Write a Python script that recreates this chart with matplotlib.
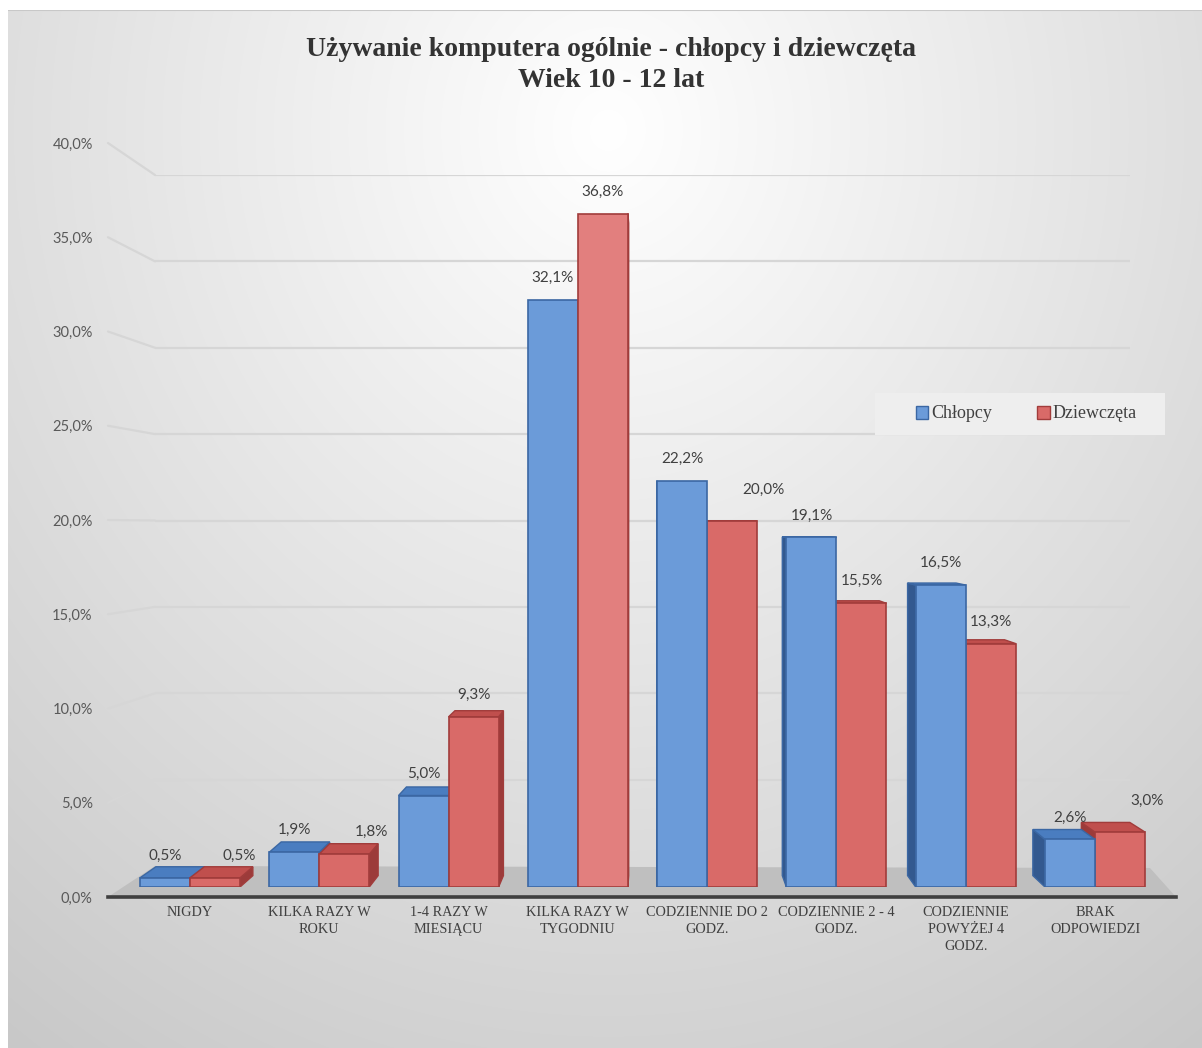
import numpy as np
import matplotlib
matplotlib.use("Agg")
import matplotlib.pyplot as plt
from matplotlib.patches import Polygon, Patch, Rectangle
from matplotlib.patches import ConnectionPatch

# ---------------- data ----------------
categories = ["NIGDY", "KILKA RAZY W\nROKU", "1-4 RAZY W\nMIESIĄCU", "KILKA RAZY W\nTYGODNIU",
              "CODZIENNIE DO 2\nGODZ.", "CODZIENNIE 2 - 4\nGODZ.", "CODZIENNIE\nPOWYŻEJ 4\nGODZ.",
              "BRAK\nODPOWIEDZI"]
chlopcy = [0.5, 1.9, 5.0, 32.1, 22.2, 19.1, 16.5, 2.6]
dziewczeta = [0.5, 1.8, 9.3, 36.8, 20.0, 15.5, 13.3, 3.0]
series_names = ["Chłopcy", "Dziewczęta"]
yticks = [0, 5, 10, 15, 20, 25, 30, 35, 40]
title = "Używanie komputera ogólnie - chłopcy i dziewczęta\nWiek 10 - 12 lat"

# label placement tweaks (pixels) – style only
red_label_dx = [24, 27, 0, 0, 31, 0, 0, 27]
red_label_dy = [22, 22, 22, 22, 31, 22, 22, 31]

W, H = 1202, 1048
fig = plt.figure(figsize=(W / 100, H / 100), dpi=100)
fig.patch.set_facecolor("white")

def fx(x):
    return x / W

def fy(y):
    return 1 - y / H

# ---------- background gradient ----------
bg = fig.add_axes([fx(8), fy(1048), fx(1202) - fx(8), fy(10) - fy(1048)], zorder=-10)
yy, xx = np.mgrid[0:1040, 0:1194]
d = np.sqrt(((xx - 600) / 900.0) ** 2 + ((yy - 120) / 1000.0) ** 2)
val = 1.0 - 0.19 * np.clip(d, 0, 1.2)
val = np.clip(val, 0.78, 1.0)
img = np.dstack([val, val, val])
bg.imshow(img, aspect="auto", extent=(0, 1, 0, 1), origin="upper")
bg.set_xlim(0, 1); bg.set_ylim(0, 1)
bg.axis("off")
bg.plot([0, 1], [1, 1], color="#c8c8c8", lw=1.5, transform=bg.transAxes)

# ---------- back wall gridlines ----------
ax_back = fig.add_axes([fx(155), fy(866), fx(1130) - fx(155), fy(175) - fy(866)], zorder=1)
ax_back.set_ylim(0, 40); ax_back.set_xlim(0, 1)
ax_back.axis("off")
for v in yticks[1:]:
    ax_back.axhline(v, color="#d6d6d6", lw=1.6)

# ---------- front tick labels ----------
ax_front = fig.add_axes([fx(108), fy(897), fx(155) - fx(108), fy(143) - fy(897)], zorder=2)
ax_front.set_ylim(0, 40); ax_front.set_xlim(0, 1)
ax_front.patch.set_alpha(0)
for s in ax_front.spines.values():
    s.set_visible(False)
ax_front.set_xticks([])
ax_front.set_yticks(yticks)
ax_front.set_yticklabels([f"{v:.1f}%".replace(".", ",") for v in yticks],
                         fontfamily="Lato", fontsize=10.5, color="#595959")
ax_front.tick_params(axis="y", length=0, pad=11)

for v in yticks[1:]:
    con = ConnectionPatch(xyA=(0, v), coordsA=ax_front.get_yaxis_transform(),
                          xyB=(0, v), coordsB=ax_back.get_yaxis_transform(),
                          color="#d6d6d6", lw=1.6)
    fig.add_artist(con)

# ---------- floor ----------
floor = Polygon([(fx(108), fy(897)), (fx(1176), fy(897)), (fx(1150), fy(868)), (fx(155), fy(866))],
                closed=True, transform=fig.transFigure, facecolor="#bfbfbf", edgecolor="none", zorder=1.5)
fig.add_artist(floor)
fig.add_artist(plt.Line2D([fx(108), fx(1176)], [fy(897), fy(897)], transform=fig.transFigure,
                          color="#3f3f3f", lw=2.6, zorder=1.6))

# ---------- bars ----------
ax = fig.add_axes([fx(125.35), fy(887), fx(1159.65) - fx(125.35), fy(155) - fy(887)], zorder=3)
ax.set_xlim(-0.5, 7.5); ax.set_ylim(0, 40)
ax.patch.set_alpha(0)
for s in ax.spines.values():
    s.set_visible(False)
ax.set_yticks([])
x = np.arange(len(categories))
ax.set_xticks(x)
ax.set_xticklabels(categories, fontfamily="Liberation Serif", fontsize=10.3, color="#404040",
                   linespacing=1.4)
ax.tick_params(axis="x", length=0, pad=14)

bw = 0.387
styles = {
    0: dict(front="#6b9bd9", edge="#3b67a3", side="#33598f", top="#4a7dc0"),
    1: dict(front="#d96a68", edge="#a13c3b", side="#9c3b3a", top="#c04f4d"),
}
big_red_front = "#e27f7e"

b1 = ax.bar(x - bw / 2, chlopcy, bw, color=styles[0]["front"], edgecolor=styles[0]["edge"], lw=1.2, zorder=5)
b2 = ax.bar(x + bw / 2, dziewczeta, bw, color=styles[1]["front"], edgecolor=styles[1]["edge"], lw=1.2, zorder=5)

fig.canvas.draw()
vp = np.array([654.0, H - 520.0])  # vanishing point in display pixels
k = 0.031

boxes = []
for si, cont in enumerate([b1, b2]):
    for rect in cont.patches:
        bb = rect.get_window_extent()
        cx = (bb.x0 + bb.x1) / 2
        boxes.append((abs(cx - vp[0]), si, rect, bb))
boxes.sort(key=lambda t: -t[0])

def back(p):
    p = np.array(p, dtype=float)
    return p + k * (vp - p)

z = 4.0
for dist, si, rect, bb in boxes:
    st = styles[si]
    x0, x1, y0, y1 = bb.x0, bb.x1, bb.y0, bb.y1
    faces = []
    if x1 < vp[0]:
        pts = [(x1, y0), (x1, y1), back((x1, y1)), back((x1, y0))]
        faces.append((pts, st["side"]))
    if x0 > vp[0]:
        pts = [(x0, y0), (x0, y1), back((x0, y1)), back((x0, y0))]
        faces.append((pts, st["side"]))
    if y1 < vp[1]:
        pts = [(x0, y1), (x1, y1), back((x1, y1)), back((x0, y1))]
        faces.append((pts, st["top"]))
    for pts, col in faces:
        poly = Polygon(pts, closed=True, transform=None, facecolor=col, edgecolor=st["edge"],
                       lw=1.0, zorder=z)
        ax.add_artist(poly)
        z += 0.001
    rect.set_zorder(z + 0.0005)
    z += 0.002
    if si == 1 and rect.get_height() > 30:
        rect.set_facecolor(big_red_front)

# ---------- value labels ----------
for i, v in enumerate(chlopcy):
    ax.annotate(f"{v:.1f}%".replace(".", ","), (x[i] - bw / 2, v), xytext=(0, 22 * 0.72),
                textcoords="offset points", ha="center", va="center", fontfamily="Lato",
                fontsize=11, color="#404040", zorder=20)
for i, v in enumerate(dziewczeta):
    ax.annotate(f"{v:.1f}%".replace(".", ","), (x[i] + bw / 2, v),
                xytext=(red_label_dx[i] * 0.72, red_label_dy[i] * 0.72),
                textcoords="offset points", ha="center", va="center", fontfamily="Lato",
                fontsize=11, color="#404040", zorder=20)

# ---------- title ----------
fig.text(fx(611), fy(65), title, ha="center", va="center", fontfamily="Liberation Serif",
         fontweight="bold", fontsize=20, color="#333333", linespacing=1.3)

# ---------- legend ----------
fig.add_artist(Rectangle((fx(875), fy(435)), fx(1165) - fx(875), fy(393) - fy(435),
                         transform=fig.transFigure, facecolor="#eeeeee", edgecolor="none", zorder=29))
handles = [Patch(facecolor=styles[0]["front"], edgecolor=styles[0]["edge"]),
           Patch(facecolor=styles[1]["front"], edgecolor=styles[1]["edge"])]
leg = fig.legend(handles, series_names, loc="center", bbox_to_anchor=(fx(1026), fy(414)), ncol=2,
                 frameon=False, handlelength=0.7, handleheight=0.7, handletextpad=0.15,
                 columnspacing=2.5, borderpad=0.2, borderaxespad=0,
                 prop={"family": "Liberation Serif", "size": 13})
for t in leg.get_texts():
    t.set_color("#404040")
leg.set_zorder(30)

fig.savefig("out.png", dpi=100)
